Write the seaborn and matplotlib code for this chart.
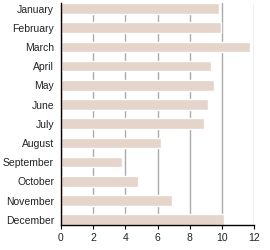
import matplotlib
matplotlib.use("Agg")
import matplotlib.pyplot as plt
import seaborn as sns
import pandas as pd

months = ["January", "February", "March", "April", "May", "June", "July",
          "August", "September", "October", "November", "December"]
values = [9.81, 9.95, 11.74, 9.32, 9.5, 9.13, 8.88, 6.19, 3.77, 4.76, 6.87, 10.12]
xticks = [0, 2, 4, 6, 8, 10, 12]

df = pd.DataFrame({"month": months, "value": values})

sns.set_style("white")
plt.rcParams["font.family"] = ["Liberation Sans", "DejaVu Sans"]

fig = plt.figure(figsize=(2.7, 2.5), dpi=100)
ax = fig.add_axes([61 / 270, 1 - 225 / 250, (254.3 - 61) / 270, (225 - 3.3) / 250])

sns.barplot(data=df, y="month", x="value", orient="h", color="#e4d4ca",
            saturation=1, width=0.55, ax=ax, zorder=2)

ax.set_xlim(0, 12)
ax.set_ylim(11.275, -0.275)
ax.set_xticks(xticks)
ax.set_xticklabels([str(t) for t in xticks])
ax.xaxis.grid(True, color="#aaaaaa", linewidth=1.0, zorder=0)
ax.yaxis.grid(False)
ax.set_axisbelow(True)
ax.set_xlabel("")
ax.set_ylabel("")

for s in ["top", "right"]:
    ax.spines[s].set_visible(False)
for s in ["left", "bottom"]:
    ax.spines[s].set_visible(True)
    ax.spines[s].set_color("black")
    ax.spines[s].set_linewidth(1.0)

ax.tick_params(axis="x", which="both", bottom=True, length=3, width=0.8,
               color="black", labelsize=7.5, pad=3, labelcolor="#222222")
ax.tick_params(axis="y", which="both", left=False, length=0, labelsize=7.5, pad=5,
               labelcolor="#222222")

fig.savefig("out.png", dpi=100)
